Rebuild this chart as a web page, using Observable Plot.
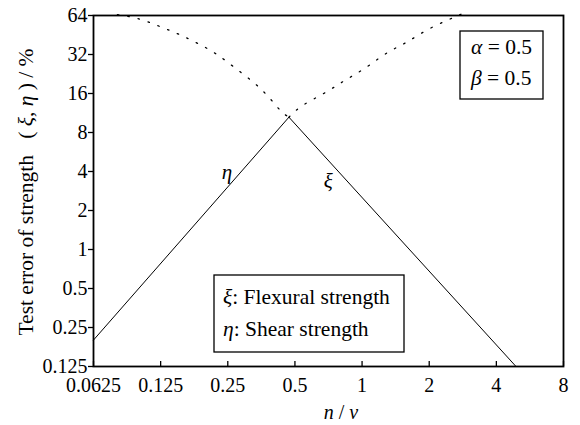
<!DOCTYPE html>
<html><head><meta charset="utf-8">
<script src="https://cdn.jsdelivr.net/npm/d3@7"></script>
<script src="https://cdn.jsdelivr.net/npm/@observablehq/plot@0.6"></script>
<style>
body{margin:0;background:#fff;}
svg text, svg tspan{font-family:"Liberation Serif","Times New Roman",serif !important;}
</style></head>
<body><div id="chart"></div>
<script>
const xTicks = [0.0625, 0.125, 0.25, 0.5, 1, 2, 4, 8];
const yTicks = [0.125, 0.25, 0.5, 1, 2, 4, 8, 16, 32, 64];
// solid lines
const etaX = [0.0625, 0.47];
const etaY = [0.2, 10.5];
const xiX = [0.47, 4.9];
const xiY = [10.5, 0.125];
// dotted extensions
const xiExtX = [0.08, 0.0985, 0.121, 0.148, 0.180, 0.220, 0.268, 0.327, 0.383, 0.431, 0.47];
const xiExtY = [65, 60.7, 53.5, 46.5, 39.6, 32.6, 25.4, 19.4, 14.9, 11.8, 10.5];
const etaExtX = [0.47, 0.54, 0.673, 0.838, 1.042, 1.282, 1.576, 1.937, 2.40, 2.81];
const etaExtY = [10.5, 12.9, 16, 20.2, 25.4, 32.6, 39.6, 49, 58.6, 66];
// curve labels
const labelNames = ["η", "ξ"];
const labelX = [0.248, 0.705];
const labelY = [3.95, 3.35];

const toPts = (xs, ys) => xs.map((x, i) => ({x, y: ys[i]}));
const labels = labelNames.map((t, i) => ({t, x: labelX[i], y: labelY[i]}));

const plot = Plot.plot({
  width: 580, height: 425,
  marginLeft: 93, marginRight: 17, marginTop: 15, marginBottom: 59,
  style: {fontSize: "18px", color: "#000", background: "#fff"},
  x: {type: "log", base: 2, domain: [0.0625, 8]},
  y: {type: "log", base: 2, domain: [0.125, 64]},
  marks: [
    Plot.axisY({ticks: yTicks, tickFormat: d => String(d), tickSize: 5, tickPadding: 1, label: null, fontSize: 20, strokeWidth: 1.3}),
    Plot.axisX({ticks: xTicks, tickFormat: d => String(d), tickSize: -5, tickPadding: 16, label: null, fontSize: 20, strokeWidth: 1.3}),
    Plot.line(toPts(etaX, etaY), {x: "x", y: "y", stroke: "#000", strokeWidth: 1}),
    Plot.line(toPts(xiX, xiY), {x: "x", y: "y", stroke: "#000", strokeWidth: 1}),
    Plot.line(toPts(xiExtX, xiExtY), {x: "x", y: "y", stroke: "#000", strokeWidth: 1.3, strokeDasharray: "1.5,9", curve: "natural"}),
    Plot.line(toPts(etaExtX, etaExtY), {x: "x", y: "y", stroke: "#000", strokeWidth: 1.3, strokeDasharray: "1.5,9", curve: "natural"}),
    Plot.text(labels, {x: "x", y: "y", text: "t", fontStyle: "italic", fontSize: 21}),
    Plot.frame({stroke: "#000", strokeWidth: 1.8})
  ]
});
document.getElementById("chart").appendChild(plot);

const svg = d3.select(plot);
// y-axis title
const yl = svg.append("text")
  .attr("transform", "translate(33,192) rotate(-90)")
  .attr("text-anchor", "middle").attr("font-size", 21.5).attr("fill", "#000");
yl.append("tspan").text("Test error of strength\u00a0\u00a0\u00a0(");
yl.append("tspan").attr("font-style", "italic").text(" ξ");
yl.append("tspan").text(", ");
yl.append("tspan").attr("font-style", "italic").text("η");
yl.append("tspan").text(" ) / %");
// x-axis title
const xl = svg.append("text").attr("x", 341).attr("y", 419)
  .attr("text-anchor", "middle").attr("font-size", 20).attr("fill", "#000");
xl.append("tspan").attr("font-style", "italic").text("n");
xl.append("tspan").text(" / ");
xl.append("tspan").attr("font-style", "italic").text("v");

// parameter box
svg.append("rect").attr("x", 460).attr("y", 31).attr("width", 83).attr("height", 68)
  .attr("fill", "#fff").attr("stroke", "#000").attr("stroke-width", 1.3);
const params = [["α", "0.5", 54], ["β", "0.5", 85]];
params.forEach(([s, v, yy]) => {
  const t = svg.append("text").attr("x", 471).attr("y", yy).attr("text-anchor", "start")
    .attr("font-size", 21.5).attr("fill", "#000");
  t.append("tspan").attr("font-style", "italic").text(s);
  t.append("tspan").text(" = " + v);
});

// legend box
svg.append("rect").attr("x", 214).attr("y", 275).attr("width", 190).attr("height", 77)
  .attr("fill", "#fff").attr("stroke", "#000").attr("stroke-width", 1.3);
const legend = [["ξ", "Flexural strength", 304], ["η", "Shear strength", 336]];
legend.forEach(([s, v, yy]) => {
  const t = svg.append("text").attr("x", 223).attr("y", yy).attr("text-anchor", "start")
    .attr("font-size", 21.5).attr("fill", "#000");
  t.append("tspan").attr("font-style", "italic").text(s);
  t.append("tspan").text(": " + v);
});
</script>
</body></html>
